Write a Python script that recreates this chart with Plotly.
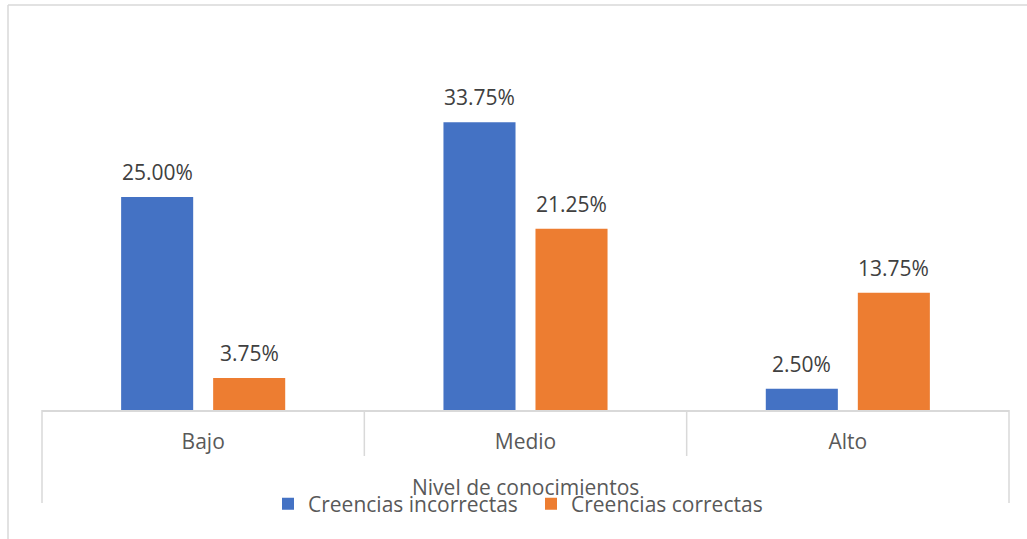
import plotly.graph_objects as go

# Knowledge level categories and belief percentages
categorias = ["Bajo", "Medio", "Alto"]
creencias_incorrectas = [25.00, 33.75, 2.50]
creencias_correctas = [3.75, 21.25, 13.75]
series_nombres = ["Creencias incorrectas", "Creencias correctas"]
titulo_eje_x = "Nivel de conocimientos"

AZUL = "#4472C4"
NARANJA = "#ED7D31"
GRIS_LINEA = "#D9D9D9"
TEXTO = "#595959"
TEXTO_DATOS = "#404040"
FUENTE = "Open Sans"
TAM = 21

# Plot area geometry (pixels)
W, H = 1027, 539
L, R, T, B = 42, 18, 69, 129
plot_w = W - L - R
plot_h = H - T - B


def px_x(px):
    return (px - L) / plot_w


def px_y(py):
    return (H - B - py) / plot_h


BARGAP = 0.429
BARGROUPGAP = 0.217
offset = (1 - BARGAP) / 4  # center of each bar inside its group

fig = go.Figure()
fig.add_trace(go.Bar(name=series_nombres[0], x=categorias, y=creencias_incorrectas,
                     marker=dict(color=AZUL, line=dict(width=0))))
fig.add_trace(go.Bar(name=series_nombres[1], x=categorias, y=creencias_correctas,
                     marker=dict(color=NARANJA, line=dict(width=0))))

# Value labels above each bar
annotations = []
for i, cat in enumerate(categorias):
    for vals, sign in ((creencias_incorrectas, -1), (creencias_correctas, 1)):
        annotations.append(dict(
            x=i + sign * offset, y=vals[i], xref="x", yref="y",
            text=f"{vals[i]:.2f}%", showarrow=False,
            yanchor="middle", yshift=25,
            font=dict(family=FUENTE, size=TAM, color=TEXTO_DATOS)))

# Axis title
annotations.append(dict(
    x=px_x(525.5), y=px_y(487), xref="paper", yref="paper",
    text=titulo_eje_x, showarrow=False, xanchor="center", yanchor="middle",
    font=dict(family=FUENTE, size=TAM, color=TEXTO)))

shapes = []
# Category separators below the axis
for k, xb in enumerate([0, 1 / 3, 2 / 3, 1]):
    y_end = px_y(503) if k in (0, 3) else px_y(456)
    shapes.append(dict(type="line", xref="paper", yref="paper",
                       x0=xb, x1=xb, y0=0, y1=y_end,
                       line=dict(color=GRIS_LINEA, width=1.5)))
# Chart frame (top and left edges)
shapes.append(dict(type="line", xref="paper", yref="paper",
                   x0=px_x(8), x1=px_x(1040), y0=px_y(5), y1=px_y(5),
                   line=dict(color=GRIS_LINEA, width=1.5)))
shapes.append(dict(type="line", xref="paper", yref="paper",
                   x0=px_x(8), x1=px_x(8), y0=px_y(5), y1=px_y(560),
                   line=dict(color=GRIS_LINEA, width=1.5)))

fig.update_layout(
    width=W, height=H,
    margin=dict(l=L, r=R, t=T, b=B, pad=0),
    paper_bgcolor="white", plot_bgcolor="white",
    barmode="group", bargap=BARGAP, bargroupgap=BARGROUPGAP,
    showlegend=True,
    legend=dict(orientation="h", x=px_x(268), xanchor="left",
                y=px_y(504), yanchor="middle",
                entrywidth=218, entrywidthmode="pixels",
                font=dict(family=FUENTE, size=TAM, color=TEXTO),
                bgcolor="rgba(0,0,0,0)", itemclick=False),
    annotations=annotations,
    shapes=shapes,
    xaxis=dict(range=[-0.5, 2.5], showgrid=False, zeroline=False,
               showline=True, linecolor=GRIS_LINEA, linewidth=1.5,
               ticks="outside", ticklen=12, tickcolor="rgba(0,0,0,0)",
               tickfont=dict(family=FUENTE, size=TAM, color=TEXTO)),
    yaxis=dict(range=[0, 40], visible=False, showgrid=False, zeroline=False),
)

fig.write_html("out.html")
